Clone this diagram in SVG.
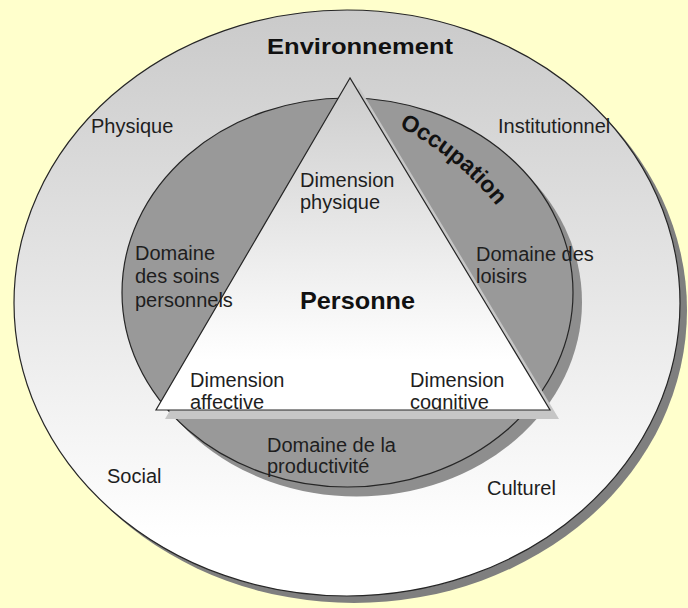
<svg xmlns="http://www.w3.org/2000/svg" width="688" height="608" viewBox="0 0 688 608">
  <style>
    .lbl { font-family: "Liberation Sans", Arial, sans-serif; font-size: 20px; fill: #1e1e1e; }
    .bold { font-family: "Liberation Sans", Arial, sans-serif; font-weight: bold; fill: #111; }
    .edge { stroke: #262626; stroke-width: 1.2; }
  </style>
  <defs>
    <linearGradient id="gOuter" x1="0" y1="0" x2="0" y2="1">
      <stop offset="0" stop-color="#cacaca"/>
      <stop offset="0.9" stop-color="#ffffff"/>
    </linearGradient>
    <linearGradient id="gTri" gradientUnits="userSpaceOnUse" x1="0" y1="78" x2="0" y2="410">
      <stop offset="0" stop-color="#cccccc"/>
      <stop offset="0.85" stop-color="#ffffff"/>
    </linearGradient>
    <clipPath id="baseClip">
      <rect x="0" y="0" width="688" height="410"/>
    </clipPath>
    <path id="occArc" d="M399,127 A300,300 0 0,1 521,241"/>
  </defs>

  <rect x="0" y="0" width="688" height="608" fill="#ffffcc"/>

  <g id="environnement">
    <ellipse cx="354" cy="310" rx="333" ry="293" fill="#7f7f7f"/>
    <ellipse cx="347" cy="303" rx="333" ry="293" fill="url(#gOuter)" class="edge"/>
    <text class="bold" x="267" y="54" font-size="21.5" textLength="186" lengthAdjust="spacingAndGlyphs">Environnement</text>
    <text class="lbl" x="91" y="133">Physique</text>
    <text class="lbl" x="498" y="133">Institutionnel</text>
    <text class="lbl" x="107" y="483">Social</text>
    <text class="lbl" x="487" y="495">Culturel</text>
  </g>

  <g id="occupation">
    <ellipse cx="356.5" cy="302" rx="225.5" ry="194.5" fill="#8e8e8e"/>
    <ellipse cx="347.5" cy="292.5" rx="225.5" ry="194.5" fill="#999999" class="edge"/>
    <text class="bold" font-size="23"><textPath href="#occArc">Occupation</textPath></text>
  </g>

  <g id="personne">
    <polygon points="359,87 165,419 559,419" fill="#c6c6c6"/>
    <polygon points="350,78 156,410 550,410" fill="url(#gTri)" class="edge" stroke-linejoin="miter"/>
    <text class="bold" x="300" y="309" font-size="24" textLength="115" lengthAdjust="spacingAndGlyphs">Personne</text>
    <text class="lbl"><tspan x="300" y="187">Dimension</tspan><tspan x="300" y="209">physique</tspan></text>
    <g clip-path="url(#baseClip)">
      <text class="lbl"><tspan x="190" y="387">Dimension</tspan><tspan x="190" y="409">affective</tspan></text>
      <text class="lbl"><tspan x="410" y="387">Dimension</tspan><tspan x="410" y="409">cognitive</tspan></text>
    </g>
  </g>

  <g id="occupation-domaines">
    <text class="lbl"><tspan x="135" y="260">Domaine</tspan><tspan x="135" y="283">des soins</tspan><tspan x="135" y="307">personnels</tspan></text>
    <text class="lbl"><tspan x="476" y="261">Domaine des</tspan><tspan x="476" y="283">loisirs</tspan></text>
    <text class="lbl"><tspan x="267" y="452">Domaine de la</tspan><tspan x="267" y="473">productivité</tspan></text>
  </g>

  <g id="connectors"/>
</svg>
